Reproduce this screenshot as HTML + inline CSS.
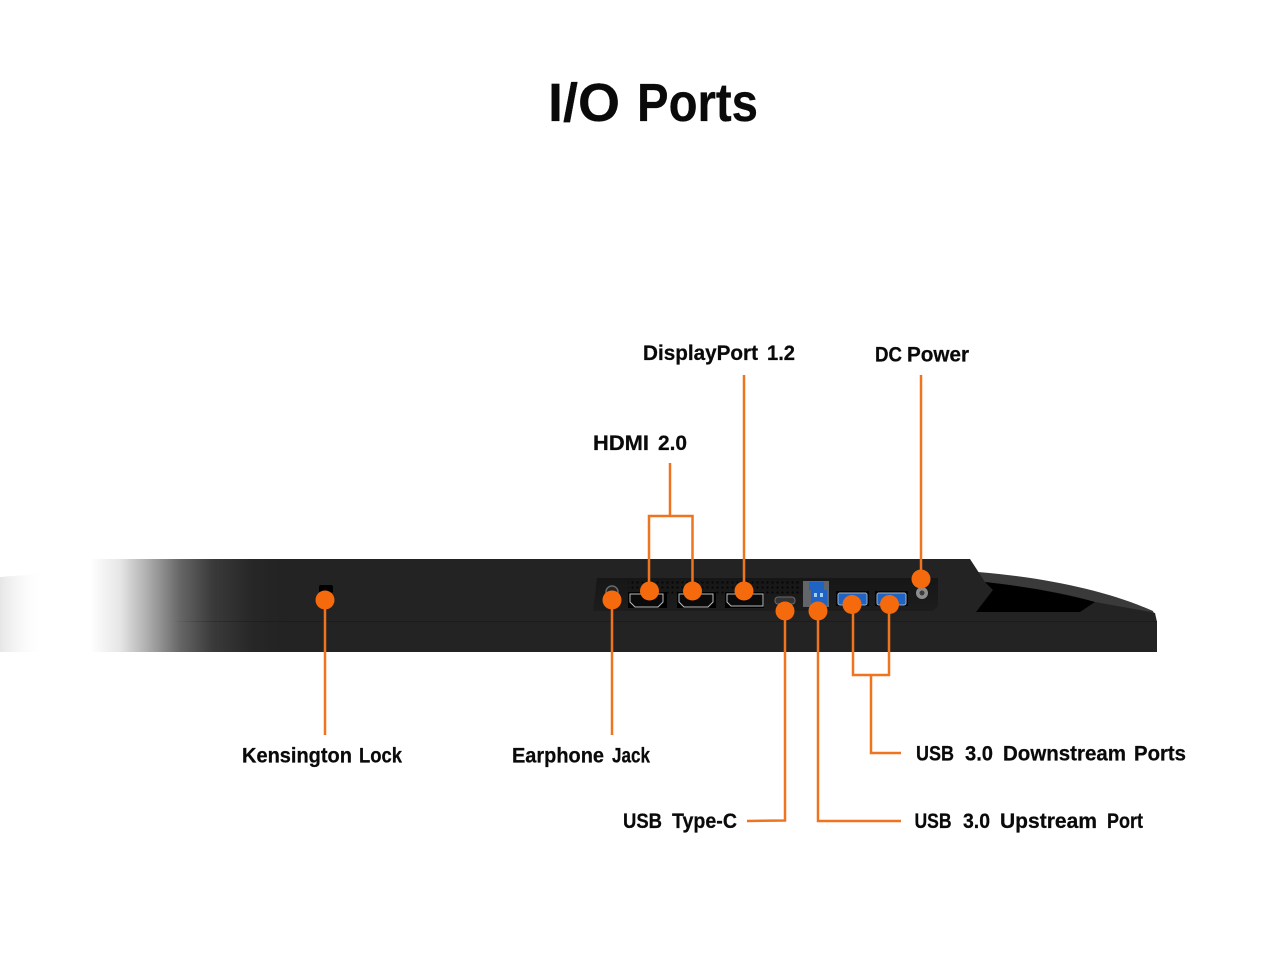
<!DOCTYPE html>
<html lang="en">
<head>
<meta charset="utf-8">
<title>I/O Ports</title>
<style>
html,body{margin:0;padding:0;background:#fff;width:1280px;height:960px;overflow:hidden}
svg{display:block}
text{font-family:"Liberation Sans",sans-serif;font-weight:700;fill:#0a0a0a;stroke:#0a0a0a;stroke-width:.25}
</style>
</head>
<body>
<svg width="1280" height="960" viewBox="0 0 1280 960" xmlns="http://www.w3.org/2000/svg">
<defs>
<linearGradient id="fade" x1="0" y1="0" x2="280" y2="0" gradientUnits="userSpaceOnUse">
<stop offset="0" stop-color="#fff"/>
<stop offset="0.321" stop-color="#fff"/>
<stop offset="0.429" stop-color="#e6e6e6"/>
<stop offset="0.536" stop-color="#a8a8a8"/>
<stop offset="0.643" stop-color="#666"/>
<stop offset="0.76" stop-color="#3a3a3a"/>
<stop offset="0.9" stop-color="#272727"/>
<stop offset="1" stop-color="#232323"/>
</linearGradient>
<linearGradient id="leftfade" x1="0" y1="0" x2="45" y2="0" gradientUnits="userSpaceOnUse">
<stop offset="0" stop-color="#e6e6e6"/>
<stop offset="1" stop-color="#fff" stop-opacity="0"/>
</linearGradient>
<linearGradient id="linefade" x1="170" y1="0" x2="300" y2="0" gradientUnits="userSpaceOnUse">
<stop offset="0" stop-color="#1c1c1c" stop-opacity="0"/>
<stop offset="1" stop-color="#1c1c1c"/>
</linearGradient>
<linearGradient id="panel" x1="0" y1="578" x2="0" y2="612" gradientUnits="userSpaceOnUse">
<stop offset="0" stop-color="#161616"/>
<stop offset="1" stop-color="#1d1d1d"/>
</linearGradient>
<pattern id="dots" x="0" y="0" width="5" height="5" patternUnits="userSpaceOnUse">
<circle cx="2.500" cy="2.500" r="1.100" fill="#050505"/>
</pattern>
</defs>

<g font-size="54">
<text x="548" y="121" textLength="72" lengthAdjust="spacingAndGlyphs">I/O</text>
<text x="637" y="121" textLength="121" lengthAdjust="spacingAndGlyphs">Ports</text>
</g>

<!-- stand -->
<path d="M978 572 C1050 578 1110 592 1153 611 L1157 622 H978 Z" fill="#3a3a3a"/>
<!-- body -->
<path d="M280 559 H970 L985 582 C1030 587 1070 594 1095 602 L1151 612 L1155 613 L1157 622 V652 H280 Z" fill="#232323"/>
<rect x="0" y="559" width="280" height="93" fill="url(#fade)"/>
<path d="M0 577 Q20 575 45 574 V652 H0 Z" fill="url(#leftfade)"/>
<!-- black cut-out -->
<path d="M985 582 L993 590 L976 612 L1080 612 L1095 602 C1065 594 1030 587 985 582 Z" fill="#000"/>
<rect x="170" y="621" width="130" height="1" fill="url(#linefade)"/>
<rect x="300" y="621" width="857" height="1" fill="#1c1c1c"/>

<!-- port panel -->
<path d="M597 578 H938 V606 L933 611 H593 Z" fill="url(#panel)"/>
<rect x="628" y="580" width="172" height="10" fill="url(#dots)"/>
<rect x="664" y="590" width="14" height="5" fill="url(#dots)"/>
<rect x="715" y="590" width="12" height="5" fill="url(#dots)"/>
<rect x="764" y="590" width="38" height="5" fill="url(#dots)"/>

<!-- kensington -->
<rect x="319" y="585" width="14" height="8" rx="2" fill="#000"/>

<!-- earphone -->
<circle cx="612" cy="592" r="6" fill="#222" stroke="#6a6a6a" stroke-width="1.500"/>

<!-- HDMI 1 -->
<rect x="628" y="592" width="39" height="16" fill="#000"/>
<path d="M630 594 H663 V602 L658 607 H635 L630 602 Z" fill="#0a0a0a" stroke="#bbb" stroke-width="1"/>
<!-- HDMI 2 -->
<rect x="677" y="592" width="39" height="16" fill="#000"/>
<path d="M679 594 H713 V602 L708 607 H684 L679 602 Z" fill="#0a0a0a" stroke="#bbb" stroke-width="1"/>
<!-- DP -->
<rect x="725" y="592" width="39" height="16" fill="#000"/>
<path d="M727 594 H763 V606 H731 L727 602 Z" fill="#0a0a0a" stroke="#bbb" stroke-width="1"/>
<!-- USB-C -->
<rect x="775" y="597" width="20" height="7" rx="3" fill="#333" stroke="#6a6a6a" stroke-width="1"/>
<!-- USB upstream -->
<rect x="803" y="581" width="26" height="26" fill="#62666b"/>
<rect x="809" y="582" width="15" height="8" fill="#1f63c4"/>
<rect x="811" y="590" width="16" height="15" fill="#1f63c4"/>
<rect x="814" y="593" width="3" height="4" fill="#a8cdf2"/>
<rect x="820" y="593" width="3" height="4" fill="#a8cdf2"/>
<!-- USB downstream -->
<rect x="836" y="591" width="33" height="15" fill="#050505"/>
<rect x="838" y="593" width="29" height="12" rx="2" fill="#1f63c4" stroke="#9fb0c6" stroke-width="1"/>
<rect x="875" y="591" width="33" height="15" fill="#050505"/>
<rect x="877" y="593" width="29" height="12" rx="2" fill="#1f63c4" stroke="#9fb0c6" stroke-width="1"/>
<!-- DC -->
<circle cx="922" cy="593" r="6" fill="#8e8e8e"/>
<circle cx="922" cy="593" r="2.500" fill="#3c3c3c"/>

<!-- connectors -->
<g fill="none" stroke="#ee7420" stroke-width="2.500">
<path d="M325 600 V735"/>
<path d="M612 600 V735"/>
<path d="M670 463 V516"/>
<path d="M649 591 V516 H692.500 V591"/>
<path d="M744 375 V591"/>
<path d="M921 375 V579"/>
<path d="M747 821 L785 820.500 V611"/>
<path d="M818 611 V821 H901"/>
<path d="M853 604 V675 H889 V604"/>
<path d="M871 675 V753 H901"/>
</g>
<g fill="#f46a0c">
<circle cx="325" cy="600" r="9.500"/>
<circle cx="612" cy="600" r="9.500"/>
<circle cx="649.500" cy="591" r="9.500"/>
<circle cx="692.500" cy="591" r="9.500"/>
<circle cx="744" cy="591" r="9.500"/>
<circle cx="785" cy="611" r="9.500"/>
<circle cx="818" cy="611" r="9.500"/>
<circle cx="852" cy="604.500" r="9.500"/>
<circle cx="889.500" cy="604.500" r="9.500"/>
<circle cx="921" cy="579" r="9.500"/>
</g>

<!-- labels -->
<g font-size="21">
<text x="643" y="360" textLength="115" lengthAdjust="spacingAndGlyphs">DisplayPort</text>
<text x="767" y="360" textLength="28" lengthAdjust="spacingAndGlyphs">1.2</text>
<text x="875" y="361.500" textLength="27" lengthAdjust="spacingAndGlyphs">DC</text>
<text x="907" y="361.500" textLength="62" lengthAdjust="spacingAndGlyphs">Power</text>
<text x="593" y="450" textLength="56" lengthAdjust="spacingAndGlyphs">HDMI</text>
<text x="658" y="450" textLength="29" lengthAdjust="spacingAndGlyphs">2.0</text>
<text x="242" y="762.500" textLength="110" lengthAdjust="spacingAndGlyphs">Kensington</text>
<text x="359" y="762.500" textLength="43" lengthAdjust="spacingAndGlyphs">Lock</text>
<text x="512" y="762.500" textLength="92" lengthAdjust="spacingAndGlyphs">Earphone</text>
<text x="612" y="762.500" textLength="38" lengthAdjust="spacingAndGlyphs">Jack</text>
<text x="916" y="760.500" textLength="38" lengthAdjust="spacingAndGlyphs">USB</text>
<text x="965" y="760.500" textLength="28" lengthAdjust="spacingAndGlyphs">3.0</text>
<text x="1003" y="760.500" textLength="123" lengthAdjust="spacingAndGlyphs">Downstream</text>
<text x="1134" y="760.500" textLength="52" lengthAdjust="spacingAndGlyphs">Ports</text>
<text x="623" y="828" textLength="39" lengthAdjust="spacingAndGlyphs">USB</text>
<text x="672" y="828" textLength="65" lengthAdjust="spacingAndGlyphs">Type-C</text>
<text x="914.500" y="828" textLength="37" lengthAdjust="spacingAndGlyphs">USB</text>
<text x="963" y="828" textLength="27" lengthAdjust="spacingAndGlyphs">3.0</text>
<text x="1000" y="828" textLength="97" lengthAdjust="spacingAndGlyphs">Upstream</text>
<text x="1107" y="828" textLength="36" lengthAdjust="spacingAndGlyphs">Port</text>
</g>
</svg>
</body>
</html>
